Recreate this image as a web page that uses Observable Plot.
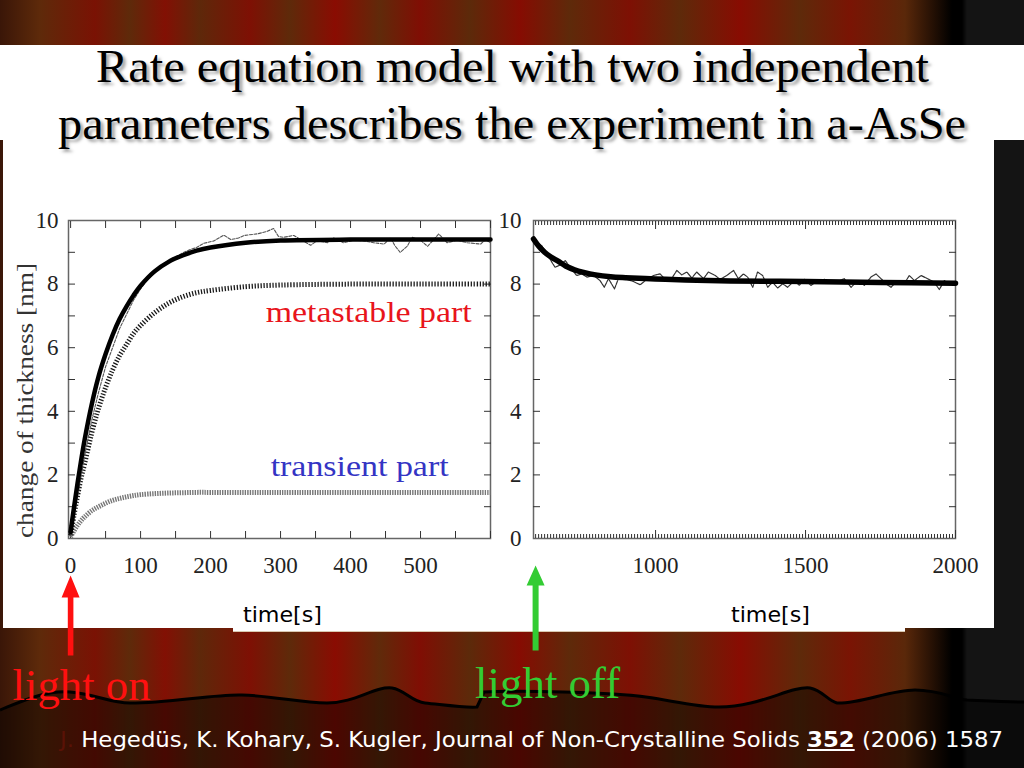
<!DOCTYPE html>
<html><head><meta charset="utf-8">
<script src="https://cdn.jsdelivr.net/npm/d3@7"></script>
<script src="https://cdn.jsdelivr.net/npm/@observablehq/plot@0.6"></script>
<style>
html,body{margin:0;padding:0;width:1024px;height:768px;overflow:hidden;background:#000;}
#slide{position:relative;width:1024px;height:768px;overflow:hidden;
 background:linear-gradient(90deg,#3a1608 0px,#5e2a0a 40px,#7a1204 95px,#5e2a0a 130px,#821004 165px,#5e280a 200px,#7e1004 250px,#5e2a0a 290px,#8a0c02 335px,#602a0a 380px,#800e04 420px,#5c2a0a 470px,#860c02 520px,#5e2a0a 570px,#7e1004 630px,#5e2a0a 680px,#880c02 740px,#5e2a0a 800px,#7a1404 850px,#5a280a 905px,#000 952px,#000 962px,#141414 967px,#141414 1024px);}
.abs{position:absolute;}
svg{overflow:visible;}
.title{position:absolute;left:0;width:1024px;text-align:center;font-family:"Liberation Serif",serif;font-size:46px;line-height:46px;color:#000;text-shadow:3px 3px 3px rgba(0,0,0,0.35);white-space:nowrap;}
.title span{display:inline-block;transform-origin:50% 50%;}
#cite{position:absolute;left:60px;top:729px;font-family:"DejaVu Sans",sans-serif;font-size:22px;line-height:22px;color:#fff;white-space:nowrap;transform-origin:0 50%;}
</style></head>
<body><div id="slide">
 <svg class="abs" style="left:0;top:640px" width="1024" height="128" viewBox="0 640 1024 128">
  <path d="M0,710 C20,702 45,690 70,692 C95,694 110,703 130,703 C170,703 215,694 242,695 C275,696 300,703 327,703 C355,703 375,686 392,688 C405,690 412,702 425,703 C445,705 465,708 477,707 L484,692 C530,690 600,693 627,695 C660,697 690,707 719,707 C760,707 790,686 810,688 C822,690 828,701 837,703 C860,704 890,690 915,690 C940,690 955,699 967,700 C990,701 1010,702 1024,702 L1024,768 L0,768 Z" fill="rgba(0,0,0,0.45)" stroke="none"/>
  <path d="M0,710 C20,702 45,690 70,692 C95,694 110,703 130,703 C170,703 215,694 242,695 C275,696 300,703 327,703 C355,703 375,686 392,688 C405,690 412,702 425,703 C445,705 465,708 477,707 L484,692 C530,690 600,693 627,695 C660,697 690,707 719,707 C760,707 790,686 810,688 C822,690 828,701 837,703 C860,704 890,690 915,690 C940,690 955,699 967,700 C990,701 1010,702 1024,702" fill="none" stroke="#000" stroke-width="3"/>
 </svg>
 <div class="abs" style="left:0;top:45px;width:1024px;height:95px;background:#fff"></div>
 <div class="abs" style="left:3px;top:140px;width:991px;height:488px;background:#fff"></div>
 <div class="abs" style="left:233px;top:626px;width:672px;height:5px;background:#fff;border-bottom:1px solid #d8c8b0"></div>
 <div class="title" style="top:44px"><span id="t1">Rate equation model with two independent</span></div>
 <div class="title" style="top:101px"><span id="t2">parameters describes the experiment in a-AsSe</span></div>
 <div id="left" class="abs" style="left:0;top:200px"></div>
 <div id="right" class="abs" style="left:495px;top:200px"></div>
 <div id="cite"><span style="color:#5a1206">J.</span> Hegedüs, K. Kohary, S. Kugler, Journal of Non-Crystalline Solids <b><u>352</u></b> (2006) 1587</div>
</div>
<script>
// ---- data ----
const tLeftFit = [0,5,10,15,20,30,40,50,60,70,80,90,100,120,140,160,180,200,250,300,400,500,600];
const totalFit = [0.2,1.0,1.75,2.45,3.1,4.2,5.1,5.8,6.4,6.9,7.3,7.65,7.95,8.4,8.7,8.9,9.05,9.15,9.3,9.37,9.4,9.4,9.4];
const metastableFit = [0.1,0.75,1.35,1.9,2.35,3.3,4.1,4.75,5.3,5.75,6.1,6.45,6.7,7.1,7.4,7.6,7.73,7.8,7.92,7.97,8.0,8.0,8.0];
const transientFit = [0.05,0.25,0.42,0.56,0.68,0.87,1.0,1.11,1.2,1.26,1.31,1.35,1.38,1.41,1.43,1.44,1.45,1.45,1.45,1.45,1.45,1.45,1.45];
const tLeftData = [0,10,20,30,40,50,60,70,80,90,100,110,120,130,143,150,160,170,180,190,205,219,229,240,248,267,281,290,297,304,319,329,343,352,367,376,390,405,419,433,448,457,464,471,481,488,500,510,519,526,538,552,567,586,593,600];
const leftData = [0.1,1.3,2.6,3.7,4.6,5.4,6.0,6.6,7.05,7.5,7.85,8.15,8.35,8.55,8.8,8.85,8.98,9.08,9.15,9.28,9.36,9.54,9.4,9.45,9.53,9.58,9.66,9.75,9.5,9.47,9.53,9.4,9.22,9.36,9.3,9.45,9.3,9.38,9.36,9.3,9.26,9.45,9.19,9.0,9.19,9.47,9.38,9.19,9.4,9.58,9.3,9.38,9.3,9.26,9.4,9.3];
const tRightFit = [593,610,630,650,675,700,730,760,800,850,900,1000,1100,1250,1500,1750,2000];
const rightFit = [9.42,9.2,9.0,8.86,8.72,8.57,8.45,8.37,8.29,8.23,8.2,8.16,8.13,8.1,8.08,8.05,8.03];
const tRightData = [599,621,637,654,665,682,699,715,737,754,771,793,815,829,843,863,876,899,926,949,971,993,1015,1032,1049,1071,1087,1104,1121,1137,1160,1176,1199,1215,1237,1260,1276,1293,1307,1324,1340,1357,1374,1390,1407,1424,1440,1463,1479,1496,1518,1535,1563,1585,1607,1629,1652,1674,1696,1718,1735,1752,1768,1785,1807,1829,1846,1863,1885,1907,1929,1946,1963,1979,1996];
const rightData = [9.36,9.2,9.0,8.69,8.53,8.6,8.74,8.53,8.27,8.32,8.22,8.27,8.11,7.9,8.17,7.85,8.17,8.17,8.08,7.98,8.15,8.27,8.32,8.15,8.11,8.43,8.29,8.38,8.19,8.38,8.17,8.38,8.27,8.15,8.27,8.43,8.17,8.32,8.22,7.9,8.38,8.27,7.9,8.06,7.88,8.01,7.9,8.11,7.96,8.15,7.96,8.06,8.15,8.06,8.08,8.17,7.9,8.11,7.96,8.22,8.32,8.17,8.01,7.9,8.11,8.01,8.27,8.11,8.27,8.17,8.06,7.83,8.11,7.98,8.06];
const xTicksLeft = [0,100,200,300,400,500];
const xTicksRight = [1000,1500,2000];
const yTicks = [0,2,4,6,8,10];
const events = [{t:0,label:"light on"},{t:600,label:"light off"}];
const annotations = [{t:426,v:7.1,text:"metastable part"},{t:413,v:2.26,text:"transient part"}];

const zip = (xs, ys) => xs.map((x,i) => ({x, y: ys[i]}));

const arrowShape = (sw, hw, hl) => ({
  draw(ctx, l) {
    ctx.moveTo(-sw, 0); ctx.lineTo(-sw, -l + hl); ctx.lineTo(-hw, -l + hl);
    ctx.lineTo(0, -l); ctx.lineTo(hw, -l + hl); ctx.lineTo(sw, -l + hl);
    ctx.lineTo(sw, 0); ctx.closePath();
  }
});

function axes(xLabels, xMinor, xMinorLen, yMinor, xPad, yPad) {
  return [
    Plot.frame({stroke:"#666", strokeWidth:1.5}),
    Plot.axisX(xLabels, {anchor:"bottom", tickSize:0, tickPadding:xPad, label:null, tickFormat:d => String(d)}),
    Plot.axisX(xMinor, {anchor:"bottom", tickSize:-xMinorLen, fill:"none", label:null, stroke:"#333"}),
    Plot.axisX(xMinor, {anchor:"top", tickSize:-xMinorLen, fill:"none", label:null, stroke:"#333"}),
    Plot.axisY(yTicks, {anchor:"left", tickSize:0, tickPadding:yPad, label:null}),
    Plot.axisY(yMinor, {anchor:"left", tickSize:-7, fill:"none", label:null, stroke:"#333"}),
    Plot.axisY(yMinor, {anchor:"right", tickSize:-7, fill:"none", label:null, stroke:"#333"})
  ];
}

const yMinor = d3.range(1, 10);
const style = {fontFamily:"Liberation Serif", fontSize:"23px", color:"#222", background:"transparent"};

const left = Plot.plot({
  width:495, height:510, marginLeft:68, marginRight:5, marginTop:20, marginBottom:172,
  x:{domain:[-3,600]}, y:{domain:[0,10]}, style,
  marks:[
    ...axes(xTicksLeft, d3.range(0, 601, 50), 7, yMinor, 18, 10),
    Plot.line(zip(tLeftFit, transientFit), {x:"x", y:"y", stroke:"#777", strokeWidth:5, strokeDasharray:"1.4,1.1", strokeLinecap:"butt", curve:"catmull-rom"}),
    Plot.line(zip(tLeftFit, metastableFit), {x:"x", y:"y", stroke:"#1a1a1a", strokeWidth:5, strokeDasharray:"1.3,1.7", strokeLinecap:"butt", curve:"catmull-rom"}),
    Plot.line(zip(tLeftData, leftData), {x:"x", y:"y", stroke:"#555", strokeWidth:1.1, strokeDasharray:"3,1.5"}),
    Plot.line(zip(tLeftFit, totalFit), {x:"x", y:"y", stroke:"#000", strokeWidth:4.5, curve:"catmull-rom"}),
    Plot.text([annotations[0]], {x:"t", y:"v", text:"text", fill:"#e8141b", fontSize:30, fontFamily:"Liberation Serif"}),
    Plot.text([annotations[1]], {x:"t", y:"v", text:"text", fill:"#3434c4", fontSize:30, fontFamily:"Liberation Serif"}),
    Plot.text(["change of thickness [nm]"], {text:d=>d, frameAnchor:"left", textAnchor:"middle", lineAnchor:"middle", rotate:-90, dx:-43, dy:21, fontSize:23, fill:"#333", fontFamily:"Liberation Serif"}),
    Plot.text(["time[s]"], {text:d=>d, frameAnchor:"bottom", textAnchor:"middle", lineAnchor:"middle", dx:3, dy:76, fontSize:22, fill:"#000", fontFamily:"DejaVu Sans"}),
    Plot.vector([events[0]], {x:"t", frameAnchor:"bottom", dy:117, length:80, rotate:0, anchor:"start", shape:arrowShape(2.8, 9, 22), fill:"#ff1010", stroke:"none"}),
    Plot.text([events[0]], {x:"t", text:"label", frameAnchor:"bottom", textAnchor:"middle", lineAnchor:"middle", dx:11, dy:147, fill:"#ff1010", fontSize:44, fontFamily:"Liberation Serif"})
  ]
});
document.getElementById("left").append(left);

const right = Plot.plot({
  width:505, height:510, marginLeft:38, marginRight:45, marginTop:20, marginBottom:172,
  x:{domain:[593,2000]}, y:{domain:[0,10]}, style,
  marks:[
    ...axes(xTicksRight, d3.range(600, 2001, 10), 4, yMinor, 18, 12),
    Plot.axisX(xTicksRight, {anchor:"bottom", tickSize:-8, fill:"none", label:null, stroke:"#333"}),
    Plot.axisX(xTicksRight, {anchor:"top", tickSize:-8, fill:"none", label:null, stroke:"#333"}),
    Plot.line(zip(tRightData, rightData), {x:"x", y:"y", stroke:"#333", strokeWidth:1.2, strokeDasharray:"4,1"}),
    Plot.line(zip(tRightFit, rightFit), {x:"x", y:"y", stroke:"#000", strokeWidth:5.5, curve:"catmull-rom"}),
    Plot.text(["time[s]"], {text:d=>d, frameAnchor:"bottom", textAnchor:"middle", lineAnchor:"middle", dx:26, dy:76, fontSize:22, fill:"#000", fontFamily:"DejaVu Sans"}),
    Plot.vector([events[1]], {x:"t", frameAnchor:"bottom", dy:112, length:85, rotate:0, anchor:"start", shape:arrowShape(3, 9, 20), fill:"#33cc33", stroke:"none"}),
    Plot.text([events[1]], {x:"t", text:"label", frameAnchor:"bottom", textAnchor:"middle", lineAnchor:"middle", dx:12, dy:145, fill:"#33cc33", fontSize:44, fontFamily:"Liberation Serif"})
  ]
});
document.getElementById("right").append(right);

// stretch texts to the widths measured on the reference
function fitText(svg, str, len) {
  for (const t of svg.querySelectorAll("text")) {
    if (t.textContent === str) { t.setAttribute("textLength", len); t.setAttribute("lengthAdjust", "spacingAndGlyphs"); }
  }
}
fitText(left, "metastable part", 206);
fitText(left, "transient part", 178);
fitText(left, "change of thickness [nm]", 275);
fitText(left, "light on", 138);
fitText(right, "light off", 145);
fitText(left, "time[s]", 79);
fitText(right, "time[s]", 79);

function fitX(el, target) {
  const w = el.getBoundingClientRect().width;
  if (w > 0) el.style.transform = `scaleX(${target / w})`;
}
fitX(document.getElementById("t1"), 833);
fitX(document.getElementById("t2"), 908);
fitX(document.getElementById("cite"), 943);
</script>
</body></html>
